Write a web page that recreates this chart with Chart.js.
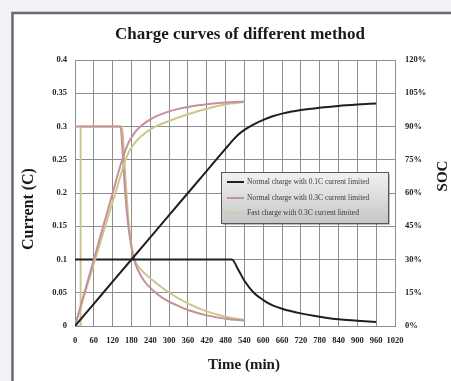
<!DOCTYPE html>
<html><head><meta charset="utf-8">
<script src="https://cdn.jsdelivr.net/npm/chart.js@4/dist/chart.umd.min.js"></script>
<style>html,body{margin:0;padding:0;background:#f1f3f6;}canvas{display:block}</style>
</head><body>
<canvas id="c" width="451" height="381"></canvas>
<script>
// ---- text ----
const chartTitle = 'Charge curves of different method';
const xTitle = 'Time (min)';
const yTitle = 'Current (C)';
const y1Title = 'SOC';
const seriesNames = [
  'Normal charge with 0.1C current limited',
  'Normal charge with 0.3C current limited',
  'Fast charge with 0.3C current limited'
];
// ---- axis ticks ----
const timeRange = [0, 1020], timeStep = 60;
const currentRange = [0, 0.4], currentStep = 0.05;
const socRange = [0, 120], socStep = 15;

// ---- Normal charge 0.1C ----
const timeN01 = [0,60,120,180,240,300,360,420,480,500,520,540,570,600,630,660,720,780,840,900,960];
const curN01  = [0.1,0.1,0.1,0.1,0.1,0.1,0.1,0.1,0.1,0.1,0.085,0.068,0.05,0.039,0.031,0.026,0.019,0.014,0.010,0.008,0.006];
const socN01  = [0,10,20,30,40,50,60,70,80,83.3,86.3,88.5,91,93,94.6,95.8,97.4,98.5,99.3,99.9,100.4];

// ---- Normal charge 0.3C ----
const timeN03 = [0,60,120,145,152,160,170,180,188,200,220,250,280,320,360,420,480,540];
const curN03  = [0.3,0.3,0.3,0.3,0.26,0.2,0.15,0.118,0.1,0.085,0.068,0.053,0.042,0.032,0.024,0.016,0.011,0.008];
const socN03  = [0,30,60,72.5,75.5,79,82.5,85,86.8,88.8,91.3,94,95.8,97.6,98.8,100,100.8,101.3];

// ---- Fast charge 0.3C ----
const timeF03Cur = [0,17.9,18,60,120,150,157,164,172,180,190,210,250,300,360,420,480,540];
const curF03     = [0,0,0.3,0.3,0.3,0.3,0.25,0.2,0.15,0.122,0.1,0.085,0.068,0.05,0.034,0.022,0.014,0.009];
const timeF03Soc = [0,60,120,150,160,170,180,190,210,250,300,360,420,480,540];
const socF03     = [0,28,56,70,74.5,78,80.5,82.5,85.5,89.5,92.5,95.5,98,100,101];

const pts = (xs, ys) => xs.map((x, i) => ({x, y: ys[i]}));
const BLACK = '#1f1f1f', PINK = '#c4909a', YEL = '#cdc68a', GREEN = '#b9d6a8';
const SERIF = '"Liberation Serif", "DejaVu Serif", serif';
const GRID = '#8e8e8e';

const deco = {
  id: 'deco',
  beforeDraw(chart) {
    const ctx = chart.ctx;
    ctx.save();
    ctx.fillStyle = '#f1f3f6';
    ctx.fillRect(0, 0, 451, 381);
    ctx.fillStyle = '#ffffff';
    ctx.fillRect(12, 12, 460, 400);
    ctx.strokeStyle = '#6a6a6a';
    ctx.lineWidth = 2.5;
    ctx.strokeRect(12.5, 13, 470, 420);
    ctx.restore();
  },
  afterDraw(chart) {
    const ctx = chart.ctx;
    ctx.save();
    ctx.fillStyle = '#1a1a1a';
    ctx.textAlign = 'center';
    ctx.textBaseline = 'middle';
    ctx.font = 'bold 17px ' + SERIF;
    ctx.fillText(chartTitle, 240, 35);
    ctx.font = 'bold 15px ' + SERIF;
    ctx.fillText(xTitle, 244, 365);
    ctx.save();
    ctx.translate(29, 209);
    ctx.rotate(-Math.PI / 2);
    ctx.font = 'bold 16px ' + SERIF;
    ctx.fillText(yTitle, 0, 0);
    ctx.restore();
    ctx.save();
    ctx.translate(443, 176);
    ctx.rotate(-Math.PI / 2);
    ctx.font = 'bold 15px ' + SERIF;
    ctx.fillText(y1Title, 0, 0);
    ctx.restore();
    // legend box
    const bx = 221, by = 172, bw = 167, bh = 51;
    ctx.fillStyle = 'rgba(0,0,0,0.25)';
    ctx.fillRect(bx + 2, by + 2, bw, bh);
    const g = ctx.createLinearGradient(0, by, 0, by + bh);
    g.addColorStop(0, '#f2f2f2');
    g.addColorStop(1, '#c6c6c6');
    ctx.fillStyle = g;
    ctx.fillRect(bx, by, bw, bh);
    ctx.strokeStyle = '#555';
    ctx.lineWidth = 1;
    ctx.strokeRect(bx + 0.5, by + 0.5, bw, bh);
    const cols = [BLACK, PINK, GREEN];
    const ys = [182, 198, 213];
    ctx.textAlign = 'left';
    ctx.font = '7.5px ' + SERIF;
    for (let i = 0; i < 3; i++) {
      ctx.strokeStyle = cols[i];
      ctx.lineWidth = 2;
      ctx.beginPath();
      ctx.moveTo(227, ys[i]);
      ctx.lineTo(244, ys[i]);
      ctx.stroke();
      ctx.fillStyle = '#3a3a3a';
      ctx.fillText(seriesNames[i], 247, ys[i] + 0.5);
    }
    ctx.restore();
  }
};

const tickFont = {family: SERIF, size: 8.5, weight: 'bold'};
new Chart(document.getElementById('c'), {
  type: 'line',
  data: {
    datasets: [
      {label: seriesNames[0] + ' (SOC)', data: pts(timeN01, socN01), borderColor: BLACK, yAxisID: 'y1'},
      {label: seriesNames[1] + ' (SOC)', data: pts(timeN03, socN03), borderColor: PINK, yAxisID: 'y1'},
      {label: seriesNames[2] + ' (SOC)', data: pts(timeF03Soc, socF03), borderColor: YEL, yAxisID: 'y1'},
      {label: seriesNames[0], data: pts(timeN01, curN01), borderColor: BLACK, yAxisID: 'y'},
      {label: seriesNames[1], data: pts(timeN03, curN03), borderColor: PINK, yAxisID: 'y'},
      {label: seriesNames[2], data: pts(timeF03Cur, curF03), borderColor: YEL, yAxisID: 'y'}
    ]
  },
  options: {
    responsive: false,
    animation: false,
    layout: {padding: {left: 12, top: 60, right: 0, bottom: 0}},
    elements: {
      point: {radius: 0},
      line: {borderWidth: 2, cubicInterpolationMode: 'monotone', fill: false}
    },
    plugins: {legend: {display: false}, tooltip: {enabled: false}, title: {display: false}},
    scales: {
      x: {
        type: 'linear', min: timeRange[0], max: timeRange[1],
        afterFit(s) { s.height = 55; },
        ticks: {stepSize: timeStep, autoSkip: false, maxRotation: 0, padding: 10, font: tickFont, color: '#222',
          callback: v => String(Math.round(v))},
        grid: {color: GRID, lineWidth: 1, drawTicks: false},
        border: {color: GRID}
      },
      y: {
        position: 'left', min: currentRange[0], max: currentRange[1],
        afterFit(s) { s.width = 63; },
        ticks: {stepSize: currentStep, padding: 8, font: tickFont, color: '#222',
          callback: v => String(+(+v).toFixed(2))},
        grid: {color: GRID, lineWidth: 1, drawTicks: false},
        border: {color: GRID}
      },
      y1: {
        position: 'right', min: socRange[0], max: socRange[1],
        afterFit(s) { s.width = 56; },
        ticks: {stepSize: socStep, padding: 10, font: tickFont, color: '#222',
          callback: v => v + '%'},
        grid: {drawOnChartArea: false, drawTicks: false},
        border: {color: GRID}
      }
    }
  },
  plugins: [deco]
});
</script>
</body></html>
